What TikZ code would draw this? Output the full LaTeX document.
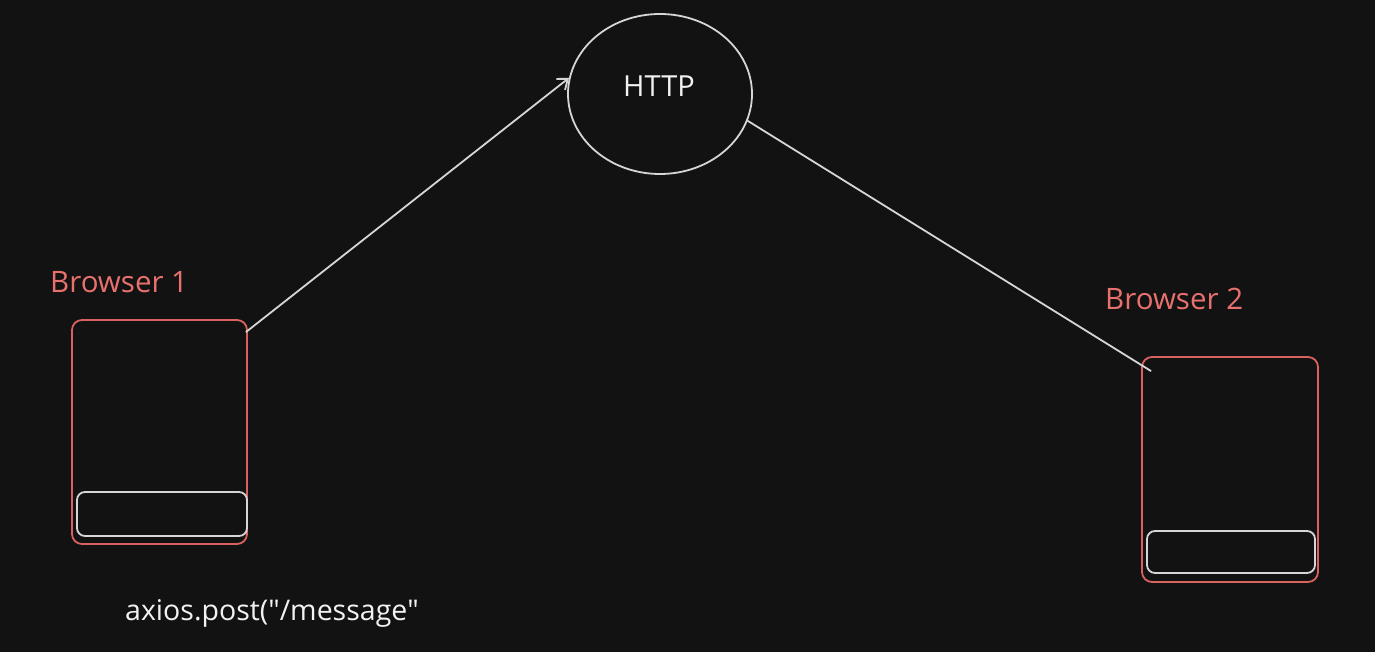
\documentclass[tikz,border=0pt]{standalone}
\usepackage{fontspec}
\setmainfont{Open Sans}
\usetikzlibrary{shapes.geometric,arrows.meta,calc}
\definecolor{bgc}{HTML}{121212}
\definecolor{salmon}{HTML}{E8716E}
\definecolor{boxred}{HTML}{D9625F}
\definecolor{linegray}{HTML}{D6D6D6}
\begin{document}
\begin{tikzpicture}[x=1pt,y=-1pt,
  outerbox/.style={draw=boxred,line width=1.8pt,rounded corners=10pt,rectangle,inner sep=0pt},
  innerbox/.style={draw=linegray,line width=1.8pt,rounded corners=8pt,rectangle,inner sep=0pt},
  conn/.style={draw=linegray,line width=1.8pt},
  label/.style={text=salmon,font=\fontsize{29.5}{32}\selectfont,inner sep=0pt},
  wlabel/.style={text=white!90!gray,font=\fontsize{28.5}{32}\selectfont,inner sep=0pt}]
\fill[bgc] (0,0) rectangle (1375,652);
\useasboundingbox (0,0) rectangle (1375,652);
% HTTP ellipse
\node[ellipse,draw=linegray,line width=1.8pt,minimum width=184pt,minimum height=160pt,inner sep=0pt] (http) at (660,94) {};
\node[wlabel,font=\fontsize{29}{32}\selectfont,anchor=base] (httpt) at (659,97) {HTTP};
% Browser 1
\node[label,anchor=base west] (l1) at (50,292) {Browser 1};
\node[outerbox,minimum width=175pt,minimum height=224pt] (b1) at (159.5,432) {};
\node[innerbox,minimum width=170pt,minimum height=44pt] (b1in) at (162,514) {};
% Browser 2
\node[label,anchor=base west] (l2) at (1105,309) {Browser 2};
\node[outerbox,minimum width=176pt,minimum height=225pt] (b2) at (1230,469.5) {};
\node[innerbox,minimum width=168pt,minimum height=42pt] (b2in) at (1231,552) {};
% caption
\node[wlabel,anchor=base west] (ax) at (125,620) {axios.post(\textquotedbl/message\textquotedbl};
% connectors
\draw[conn,-{Straight Barb[length=9pt,width=14pt]}] ($(b1.north east)+(-2,13)$) -- (http.170);
\draw[conn] (http.-17) -- ($(b2.north west)+(10,15)$);
\end{tikzpicture}
\end{document}
